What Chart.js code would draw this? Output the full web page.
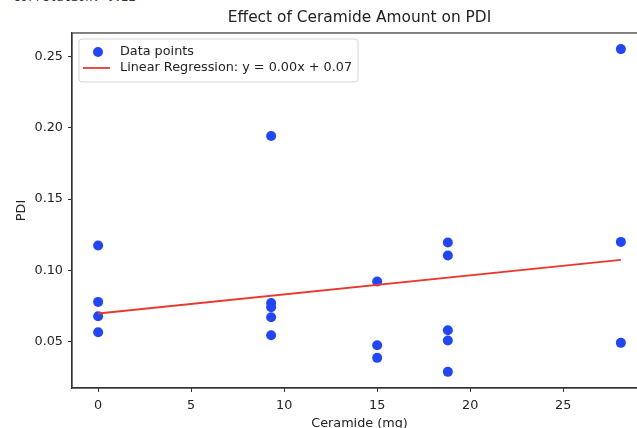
<!DOCTYPE html>
<html>
<head>
<meta charset="utf-8">
<script src="https://cdn.jsdelivr.net/npm/chart.js@4"></script>
<style>
  html, body { margin: 0; padding: 0; background: #fff; overflow: hidden; }
  #wrap { position: relative; width: 637px; height: 428px; overflow: hidden; }
  #corr { position: absolute; left: 13px; top: -10px; font: 12px "DejaVu Sans Mono", monospace; line-height: 14px; color: #333; white-space: pre; }
  canvas { position: absolute; left: 0; top: 0; }
</style>
</head>
<body>
<div id="wrap">
  <div id="corr"></div>
  <canvas id="chart" width="719" height="440"></canvas>
</div>
<script>
// values
const ceramide = [0, 0, 0, 0, 9.3, 9.3, 9.3, 9.3, 9.3, 15, 15, 15, 18.8, 18.8, 18.8, 18.8, 18.8, 28.1, 28.1, 28.1];
const pdi = [0.1175, 0.078, 0.068, 0.0567, 0.1941, 0.0772, 0.0742, 0.0672, 0.0546, 0.0923, 0.0476, 0.0388,
             0.1196, 0.1105, 0.0581, 0.0509, 0.029, 0.255, 0.120, 0.0493];
const xTicks = [0, 5, 10, 15, 20, 25];
const yTicks = [0.05, 0.10, 0.15, 0.20, 0.25];
const chartTitle = "Effect of Ceramide Amount on PDI";
const xLabel = "Ceramide (mg)";
const yLabel = "PDI";

const BLUE = "#2146f8";
const RED = "#e8392f";
const FONT = "'DejaVu Sans', sans-serif";
const SMALL = 12.8;

// Least squares fit + correlation
function linearFit(xs, ys) {
    const n = xs.length;
    const mx = xs.reduce((a, b) => a + b, 0) / n;
    const my = ys.reduce((a, b) => a + b, 0) / n;
    let sxy = 0, sxx = 0, syy = 0;
    for (let i = 0; i < n; i++) {
        sxy += (xs[i] - mx) * (ys[i] - my);
        sxx += (xs[i] - mx) ** 2;
        syy += (ys[i] - my) ** 2;
    }
    const slope = sxy / sxx;
    return { slope, intercept: my - slope * mx, r: sxy / Math.sqrt(sxx * syy) };
}

const fit = linearFit(ceramide, pdi);
const xMin = Math.min(...ceramide), xMax = Math.max(...ceramide);
const yMin = Math.min(...pdi), yMax = Math.max(...pdi);
const xPad = (xMax - xMin) * 0.05, yPad = (yMax - yMin) * 0.05;

document.getElementById("corr").textContent = `Correlation: ${fit.r.toFixed(2)}`;

const points = ceramide.map((x, i) => ({ x: x, y: pdi[i] }));
const fitLine = [xMin, xMax].map(x => ({ x: x, y: fit.intercept + fit.slope * x }));

// Frame around the plot + boxed legend, matplotlib style
const boxLegend = {
    id: "boxLegend",
    afterDatasetsDraw(chart) {
        const { ctx, chartArea } = chart;
        ctx.save();
        ctx.strokeStyle = "#333";
        ctx.lineWidth = 1.2;
        ctx.strokeRect(chartArea.left, chartArea.top, chartArea.right - chartArea.left, chartArea.bottom - chartArea.top);

        const x0 = chartArea.left + 7, y0 = chartArea.top + 6;
        ctx.font = SMALL + "px " + FONT;
        const sets = chart.data.datasets;
        const textW = Math.max(...sets.map(d => ctx.measureText(d.label).width));
        const w = 41 + textW + 6, h = 43;
        ctx.beginPath();
        ctx.roundRect(x0, y0, w, h, 3);
        ctx.fillStyle = "rgba(255,255,255,0.8)";
        ctx.fill();
        ctx.strokeStyle = "#d6d6d6";
        ctx.lineWidth = 1;
        ctx.stroke();

        sets.forEach((d, i) => {
            const cy = y0 + 13 + i * 16;
            if (d.showLine) {
                ctx.beginPath();
                ctx.moveTo(x0 + 4, cy);
                ctx.lineTo(x0 + 31, cy);
                ctx.strokeStyle = d.borderColor;
                ctx.lineWidth = d.borderWidth;
                ctx.stroke();
            } else {
                ctx.beginPath();
                ctx.arc(x0 + 19, cy, d.pointRadius, 0, Math.PI * 2);
                ctx.fillStyle = d.backgroundColor;
                ctx.fill();
            }
            ctx.fillStyle = "#222";
            ctx.textBaseline = "middle";
            ctx.textAlign = "left";
            ctx.fillText(d.label, x0 + 41, cy);
        });
        ctx.restore();
    }
};

new Chart(document.getElementById("chart"), {
    type: "scatter",
    data: {
        datasets: [
            {
                label: "Data points",
                data: points,
                backgroundColor: BLUE,
                borderWidth: 0,
                pointRadius: 5,
                order: 1
            },
            {
                label: `Linear Regression: y = ${fit.slope.toFixed(2)}x + ${fit.intercept.toFixed(2)}`,
                data: fitLine,
                showLine: true,
                borderColor: RED,
                borderWidth: 1.8,
                pointRadius: 0,
                order: 0
            }
        ]
    },
    options: {
        responsive: false,
        animation: false,
        devicePixelRatio: 1,
        layout: { padding: 0 },
        plugins: {
            legend: { display: false },
            tooltip: { enabled: false },
            title: {
                display: true,
                text: chartTitle,
                color: "#222",
                font: { family: FONT, size: 15.4, weight: "normal", lineHeight: 1.2 },
                padding: { top: 9, bottom: 5.5 }
            }
        },
        scales: {
            x: {
                type: "linear",
                min: xMin - xPad,
                max: xMax + xPad,
                afterBuildTicks: axis => { axis.ticks = xTicks.map(v => ({ value: v })); },
                afterFit: axis => { axis.height = 52; },
                grid: { drawOnChartArea: false, drawTicks: true, tickLength: 4, color: "#333" },
                border: { display: true, color: "#333", width: 1.2 },
                ticks: { color: "#222", padding: 6, font: { family: FONT, size: SMALL } },
                title: {
                    display: true,
                    text: xLabel,
                    color: "#222",
                    font: { family: FONT, size: SMALL },
                    padding: { top: 0, bottom: 9 }
                }
            },
            y: {
                type: "linear",
                min: yMin - yPad,
                max: yMax + yPad,
                afterBuildTicks: axis => { axis.ticks = yTicks.map(v => ({ value: v })); },
                afterFit: axis => { axis.width = 72; },
                grid: { drawOnChartArea: false, drawTicks: true, tickLength: 4, color: "#333" },
                border: { display: true, color: "#333", width: 1.2 },
                ticks: {
                    color: "#222",
                    padding: 5,
                    font: { family: FONT, size: SMALL },
                    callback: v => v.toFixed(2)
                },
                title: {
                    display: true,
                    text: yLabel,
                    color: "#222",
                    font: { family: FONT, size: SMALL },
                    padding: { top: 14, bottom: 0 }
                }
            },
            // empty right axis: keeps the plot's right edge just past the window
            yRight: {
                type: "linear",
                position: "right",
                display: true,
                afterFit: axis => { axis.width = 72; },
                grid: { display: false },
                border: { display: false },
                ticks: { display: false }
            }
        }
    },
    plugins: [boxLegend]
});
</script>
</body>
</html>
